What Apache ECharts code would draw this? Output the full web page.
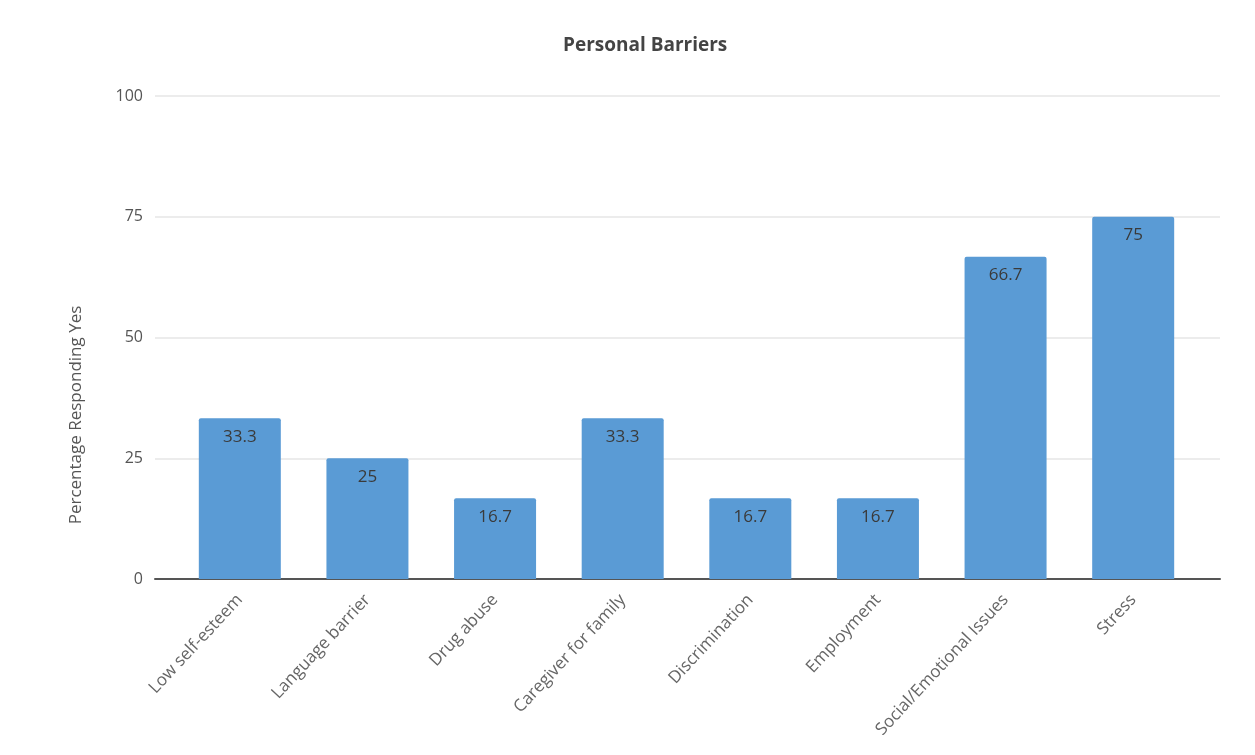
<!DOCTYPE html>
<html>
<head>
<meta charset="utf-8">
<script src="https://cdn.jsdelivr.net/npm/echarts@6/dist/echarts.min.js"></script>
<style>html,body{margin:0;padding:0;background:#fff}#c{width:1255px;height:755px}</style>
</head>
<body>
<div id="c"></div>
<script>
var categories = ["Low self-esteem", "Language barrier", "Drug abuse", "Caregiver for family", "Discrimination", "Employment", "Social/Emotional Issues", "Stress"];
var values = [33.3, 25, 16.7, 33.3, 16.7, 16.7, 66.7, 75];
var yTicks = [0, 25, 50, 75, 100];
var titleText = "Personal Barriers";
var yName = "Percentage Responding Yes";

var chart = echarts.init(document.getElementById('c'));
var font = "Open Sans";
chart.setOption({
  animation: false,
  backgroundColor: '#ffffff',
  title: {
    text: titleText, left: 558, top: 31,
    textStyle: { fontFamily: font, fontSize: 19, fontWeight: 'bold', color: '#444' }
  },
  graphic: [{
    type: 'text', x: 76, y: 415, rotation: Math.PI / 2,
    style: { text: yName, fontFamily: font, fontSize: 17, fill: '#555', align: 'center', verticalAlign: 'middle' }
  }],
  grid: [
    { left: 155, right: 35, top: 96, bottom: 176 },
    { left: 176, right: 58, top: 96, bottom: 176 }
  ],
  xAxis: [
    { type: 'value', gridIndex: 0, min: 0, max: 1, show: true,
      axisLine: { show: true, onZero: false, lineStyle: { color: '#555', width: 2 } },
      axisTick: { show: false }, axisLabel: { show: false }, splitLine: { show: false } },
    { type: 'category', gridIndex: 1, data: categories,
      axisLine: { show: false }, axisTick: { show: false },
      axisLabel: { rotate: 47, interval: 0, margin: 18, fontFamily: font, fontSize: 17, color: '#666' } }
  ],
  yAxis: [
    { type: 'value', gridIndex: 0, min: yTicks[0], max: yTicks[yTicks.length - 1], interval: 25,
      axisLine: { show: false }, axisTick: { show: false },
      axisLabel: { margin: 12, fontFamily: font, fontSize: 16, color: '#555' },
      splitLine: { show: true, lineStyle: { color: '#e6e6e6', width: 1.5 } } },
    { type: 'value', gridIndex: 1, min: yTicks[0], max: yTicks[yTicks.length - 1], interval: 25, show: false,
      splitLine: { show: false } }
  ],
  series: [{
    type: 'bar', xAxisIndex: 1, yAxisIndex: 1, data: values, barWidth: 82, z: 3,
    itemStyle: { color: '#5a9bd5', borderRadius: [2, 2, 0, 0] },
    label: { show: true, position: 'insideTop', distance: 10, fontFamily: font, fontSize: 17, fontWeight: 500, color: '#3a3a3a' }
  }]
});
</script>
</body>
</html>
